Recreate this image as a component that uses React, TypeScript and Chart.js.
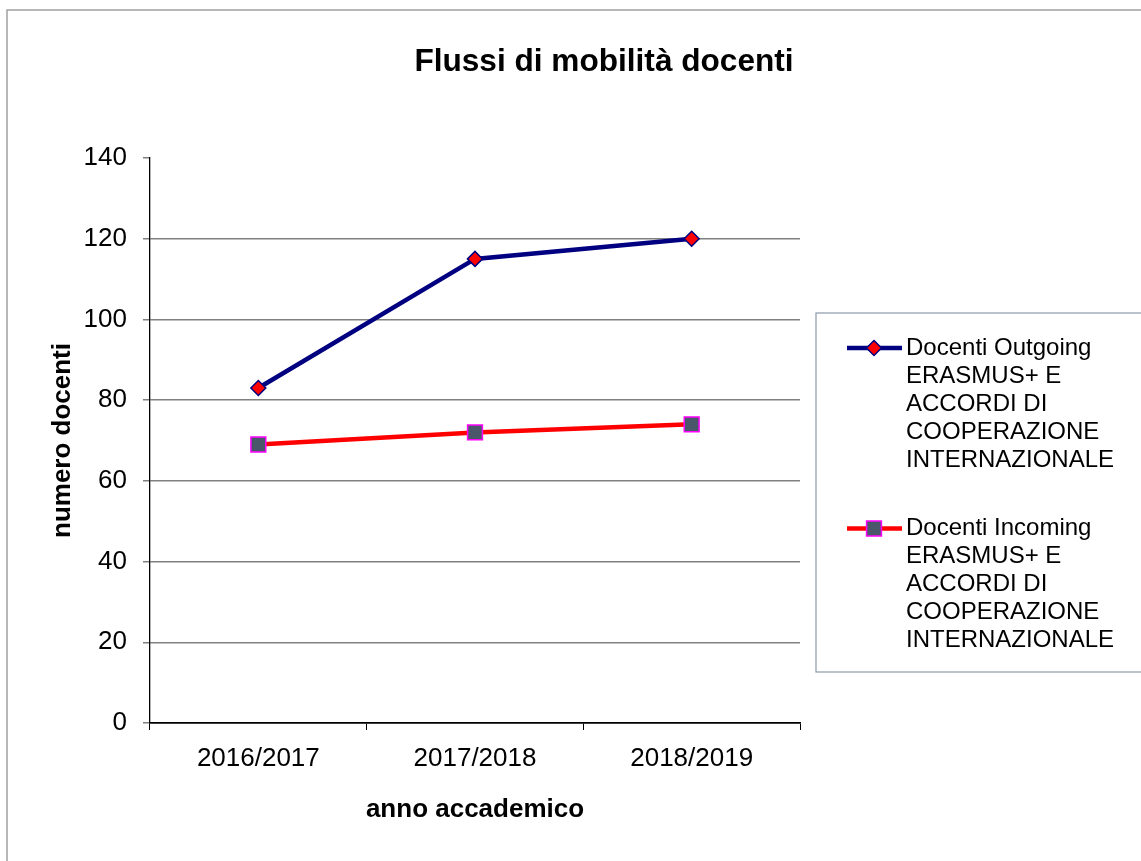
import { useEffect, useRef } from 'react';
import { Chart, registerables } from 'chart.js';

Chart.register(...registerables);

const chartTitle = 'Flussi di mobilità docenti';
const categories = ['2016/2017', '2017/2018', '2018/2019'];
const outgoingValues = [83, 115, 120];
const incomingValues = [69, 72, 74];
const outgoingLabelLines = ['Docenti Outgoing', 'ERASMUS+ E', 'ACCORDI DI', 'COOPERAZIONE', 'INTERNAZIONALE'];
const incomingLabelLines = ['Docenti Incoming', 'ERASMUS+ E', 'ACCORDI DI', 'COOPERAZIONE', 'INTERNAZIONALE'];
const yAxisTitle = 'numero docenti';
const xAxisTitle = 'anno accademico';
const yMin = 0;
const yMax = 140;
const yStep = 20;

const FONT = '"Liberation Sans", Arial, Helvetica, sans-serif';

const framePlugin = {
  id: 'frame',
  beforeDraw(chart: any) {
    const { ctx } = chart;
    ctx.save();
    ctx.fillStyle = '#ffffff';
    ctx.fillRect(0, 0, chart.width, chart.height);
    ctx.strokeStyle = '#a0a0a0';
    ctx.lineWidth = 1.5;
    ctx.strokeRect(7, 10, chart.width + 20, chart.height + 20);
    ctx.restore();
  },
};

const titlePlugin = {
  id: 'customTitle',
  afterDraw(chart: any) {
    const { ctx } = chart;
    ctx.save();
    ctx.font = `bold 31.6px ${FONT}`;
    ctx.fillStyle = '#000000';
    ctx.textAlign = 'center';
    ctx.textBaseline = 'alphabetic';
    ctx.fillText(chartTitle, 604, 71);
    ctx.restore();
  },
};

function drawMarker(ctx: CanvasRenderingContext2D, style: string, x: number, y: number, r: number) {
  ctx.beginPath();
  if (style === 'rectRot') {
    ctx.moveTo(x, y - r);
    ctx.lineTo(x + r, y);
    ctx.lineTo(x, y + r);
    ctx.lineTo(x - r, y);
    ctx.closePath();
  } else {
    const s = r * Math.SQRT1_2;
    ctx.rect(x - s, y - s, 2 * s, 2 * s);
  }
  ctx.fill();
  ctx.stroke();
}

const legendPlugin = {
  id: 'customLegend',
  afterDraw(chart: any) {
    const { ctx } = chart;
    ctx.save();
    ctx.strokeStyle = '#8c9aab';
    ctx.lineWidth = 1.2;
    ctx.strokeRect(816, 313, 400, 359);
    const startY = 348;
    const entryGap = 180.5;
    const lineGap = 28;
    chart.data.datasets.forEach((ds: any, i: number) => {
      const cy = startY + i * entryGap;
      ctx.strokeStyle = ds.borderColor;
      ctx.lineWidth = ds.borderWidth;
      ctx.beginPath();
      ctx.moveTo(847, cy);
      ctx.lineTo(902, cy);
      ctx.stroke();
      ctx.fillStyle = ds.pointBackgroundColor;
      ctx.strokeStyle = ds.pointBorderColor;
      ctx.lineWidth = ds.pointBorderWidth;
      drawMarker(ctx, ds.pointStyle, 874, cy, ds.pointRadius);
      ctx.fillStyle = '#000000';
      ctx.font = `24px ${FONT}`;
      ctx.textAlign = 'left';
      ctx.textBaseline = 'middle';
      (ds.legendLines as string[]).forEach((line, k) => {
        ctx.fillText(line, 906, cy + k * lineGap);
      });
    });
    ctx.restore();
  },
};

export default function App() {
  const canvasRef = useRef<HTMLCanvasElement | null>(null);

  useEffect(() => {
    document.body.style.margin = '0';
    const canvas = canvasRef.current;
    if (!canvas) return;
    Chart.defaults.font.family = FONT;
    const chart = new Chart(canvas, {
      type: 'line',
      data: {
        labels: categories,
        datasets: [
          {
            label: outgoingLabelLines.join(' '),
            legendLines: outgoingLabelLines,
            data: outgoingValues,
            borderColor: '#000080',
            borderWidth: 4.5,
            backgroundColor: '#000080',
            pointStyle: 'rectRot',
            pointRadius: 7.5,
            pointHoverRadius: 7.5,
            pointBackgroundColor: '#ff0000',
            pointBorderColor: '#000080',
            pointBorderWidth: 1.5,
            tension: 0,
            fill: false,
          } as any,
          {
            label: incomingLabelLines.join(' '),
            legendLines: incomingLabelLines,
            data: incomingValues,
            borderColor: '#ff0000',
            borderWidth: 4.5,
            backgroundColor: '#ff0000',
            pointStyle: 'rect',
            pointRadius: 10.5,
            pointHoverRadius: 10.5,
            pointBackgroundColor: '#4a576b',
            pointBorderColor: '#ff00ff',
            pointBorderWidth: 1.5,
            tension: 0,
            fill: false,
          } as any,
        ],
      },
      options: {
        responsive: false,
        animation: false,
        devicePixelRatio: 1,
        layout: { padding: { top: 158, right: 341, bottom: 0, left: 0 } },
        plugins: {
          legend: { display: false },
          title: { display: false },
          tooltip: { enabled: false },
        },
        scales: {
          x: {
            type: 'category',
            offset: true,
            afterFit: (scale: any) => {
              scale.height = 138;
            },
            grid: {
              offset: true,
              drawOnChartArea: false,
              drawTicks: true,
              tickLength: 7,
              tickColor: '#000000',
              tickWidth: 1,
            },
            border: { display: true, color: '#000000', width: 1.5 },
            ticks: {
              color: '#000000',
              padding: 13,
              font: { size: 26, family: FONT },
            },
            title: {
              display: true,
              text: xAxisTitle,
              color: '#000000',
              font: { size: 26, weight: 'bold', family: FONT },
              padding: { top: 0, bottom: 36 },
            },
          },
          y: {
            min: yMin,
            max: yMax,
            afterFit: (scale: any) => {
              scale.width = 150;
            },
            grid: {
              color: (c: any) =>
                c.tick && c.tick.value === yMax
                  ? 'rgba(0,0,0,0)'
                  : c.tick && c.tick.value === yMin
                  ? '#000000'
                  : '#808080',
              lineWidth: 1.5,
              drawTicks: true,
              tickLength: 7,
              tickColor: '#808080',
              tickWidth: 1.5,
            },
            border: { display: true, color: '#000000', width: 1.3 },
            ticks: {
              stepSize: yStep,
              color: '#000000',
              padding: 16,
              font: { size: 26, family: FONT },
            },
            title: {
              display: true,
              text: yAxisTitle,
              color: '#000000',
              font: { size: 26, weight: 'bold', family: FONT },
              padding: { top: 47, bottom: 0 },
            },
          },
        },
      } as any,
      plugins: [framePlugin, titlePlugin, legendPlugin],
    });
    return () => {
      chart.destroy();
    };
  }, []);

  return (
    <canvas
      ref={canvasRef}
      width={1141}
      height={861}
      style={{ display: 'block', width: 1141, height: 861 }}
    />
  );
}
